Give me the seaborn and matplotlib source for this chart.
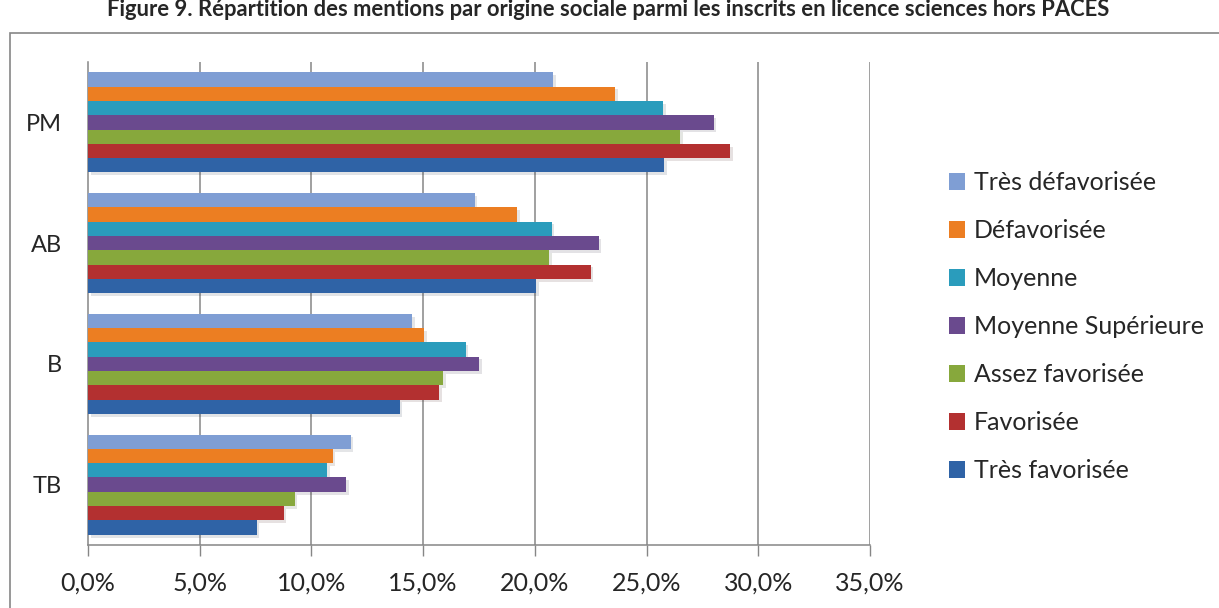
import numpy as np
import pandas as pd
import matplotlib
matplotlib.use("Agg")
import matplotlib.pyplot as plt
import matplotlib.patheffects as pe
from matplotlib.patches import Rectangle
from matplotlib.ticker import FixedLocator
import seaborn as sns

# Données (en %)
mentions = ['PM', 'AB', 'B', 'TB']
origines = ['Très défavorisée', 'Défavorisée', 'Moyenne', 'Moyenne Supérieure',
            'Assez favorisée', 'Favorisée', 'Très favorisée']
tres_defavorisee = [20.8, 17.3, 14.5, 11.75]
defavorisee = [23.6, 19.2, 15.05, 10.95]
moyenne = [25.75, 20.75, 16.9, 10.7]
moyenne_sup = [28.0, 22.85, 17.5, 11.55]
assez_favorisee = [26.5, 20.65, 15.9, 9.25]
favorisee = [28.75, 22.5, 15.7, 8.75]
tres_favorisee = [25.8, 20.05, 13.95, 7.55]
couleurs = ['#7F9ED4', '#EC7E22', '#2A9CBC', '#6A4A8E', '#87A83C', '#B33030', '#2F63A6']
x_ticks = [0, 5, 10, 15, 20, 25, 30, 35]

valeurs = [tres_defavorisee, defavorisee, moyenne, moyenne_sup,
           assez_favorisee, favorisee, tres_favorisee]
rows = []
for orig, vals in zip(origines, valeurs):
    for m, v in zip(mentions, vals):
        rows.append({'Mention': m, 'Origine': orig, 'Valeur': v})
df = pd.DataFrame(rows)

sns.set_style('white')
plt.rcParams['font.family'] = ['Lato', 'DejaVu Sans']

fig = plt.figure(figsize=(12.19, 6.08), dpi=100)
ax = fig.add_axes([88 / 1219, 1 - 545 / 608, (870 - 88) / 1219, (545 - 62) / 608])

sns.barplot(data=df, y='Mention', x='Valeur', hue='Origine', order=mentions,
            hue_order=origines, palette=couleurs, orient='h', width=0.83,
            saturation=1, linewidth=0, ax=ax, zorder=3)

for p in ax.patches:
    p.set_path_effects([pe.SimplePatchShadow(offset=(2, -2), alpha=0.12), pe.Normal()])

ax.set_xlim(0, 35)
ax.set_ylim(len(mentions) - 0.5, -0.5)
ax.set_xticks(x_ticks)
ax.set_xticklabels([f'{t:.1f}%'.replace('.', ',') for t in x_ticks], fontsize=18)
ax.set_xlabel('')
ax.set_ylabel('')
ax.tick_params(axis='y', which='major', length=0, labelsize=17, pad=19)
ax.yaxis.set_minor_locator(FixedLocator(np.arange(-0.5, len(mentions), 1)))
ax.tick_params(axis='y', which='minor', length=8, color='#868686', width=1)
ax.tick_params(axis='x', which='major', length=8, color='#868686', width=1,
               direction='out', bottom=True, pad=11)
for t in x_ticks[1:]:
    ax.axvline(t, color='#868686', lw=1.1, zorder=1)

for s in ['top', 'right']:
    ax.spines[s].set_visible(False)
for s in ['left', 'bottom']:
    ax.spines[s].set_color('#868686')
    ax.spines[s].set_linewidth(1.1)

handles, labels = ax.get_legend_handles_labels()
for h in handles:
    h.set_path_effects([])
ax.legend(handles, labels, loc='upper left', bbox_to_anchor=(926 / 1219, 1 - 149 / 608),
          bbox_transform=fig.transFigure, frameon=False, fontsize=18,
          handlelength=0.65, handleheight=0.65, handletextpad=0.35, labelspacing=1.0)

fig.patches.append(Rectangle((10 / 1219, -0.01), 1.0, 1 - 33 / 608 + 0.01,
                             transform=fig.transFigure, fill=False,
                             edgecolor='#868686', lw=1.2))
fig.text(608 / 1219, 1 - 10 / 608,
         'Figure 9. Répartition des mentions par origine sociale parmi les inscrits en licence sciences hors PACES',
         ha='center', va='center', fontsize=15.8, fontweight='bold')

fig.savefig('out.png', dpi=100)
